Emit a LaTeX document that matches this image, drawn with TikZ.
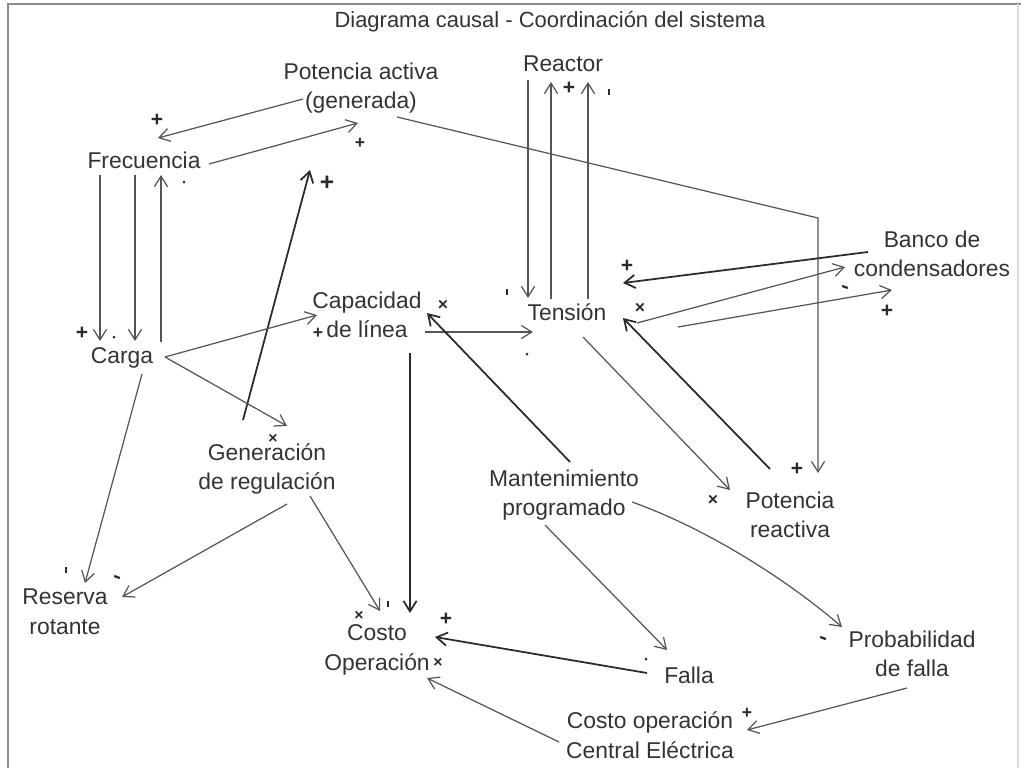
\documentclass[tikz,border=0pt]{standalone}
\usepackage{fontspec}
\setmainfont{Liberation Sans}
\usetikzlibrary{arrows.meta,calc}
\definecolor{ink}{HTML}{333333}
\definecolor{wire}{HTML}{555555}
\definecolor{heavy}{HTML}{2A2A2A}
\definecolor{framec}{HTML}{8C8C8C}

\begin{document}
\begin{tikzpicture}[x=0.02cm,y=-0.02cm,
  lbl/.style={text=ink,font=\fontsize{13}{16.8}\selectfont,align=center,inner sep=0pt},
  ttl/.style={text=ink,font=\fontsize{12.5}{15}\selectfont,inner sep=0pt},
  arr/.style={draw=wire,line width=0.7pt,-{Straight Barb[length=6pt,width=7.5pt]}},
  harr/.style={arr,draw=heavy,line width=1pt},
  plusm/.style={text=heavy,font=\bfseries\fontsize{12}{12}\selectfont,inner sep=0pt},
  exm/.style={text=heavy,font=\bfseries\fontsize{10}{10}\selectfont,inner sep=0pt},
  dotm/.style={fill=heavy,circle,inner sep=0pt,minimum size=0.06cm},
  tickm/.style={fill=heavy,rectangle,inner sep=0pt,minimum width=0.045cm,minimum height=0.12cm},
  dashm/.style={fill=heavy,rectangle,inner sep=0pt,minimum width=0.12cm,minimum height=0.045cm,rotate=-20},
]
\useasboundingbox (0,0) rectangle (1021,768);

% page frame
\draw[framec,line width=1.1pt] (8,768) -- (8,4) -- (1021,4);
\draw[black!15,line width=0.6pt] (1018,4) -- (1018,768);

% variables
\node[ttl] (title) at (550,22) {Diagrama causal - Coordinación del sistema};
\node[lbl] (pa) at (361,88) {Potencia activa\\(generada)};
\node[lbl] (re) at (563,64) {Reactor};
\node[lbl] (fr) at (144,160) {Frecuencia};
\node[lbl] (bc) at (932,254) {Banco de\\condensadores};
\node[lbl] (ca) at (367,315) {Capacidad\\de línea};
\node[lbl] (te) at (567,312) {Tensión};
\node[lbl] (cg) at (122,358) {Carga};
\node[lbl] (ge) at (267,469) {Generación\\de regulación};
\node[lbl] (ma) at (564,495) {Mantenimiento\\programado};
\node[lbl] (pr) at (790,515) {Potencia\\reactiva};
\node[lbl] (rr) at (65,612) {Reserva\\rotante};
\node[lbl] (co) at (377,650) {Costo\\Operación};
\node[lbl] (pf) at (912,654) {Probabilidad\\de falla};
\node[lbl] (fa) at (689,675) {Falla};
\node[lbl] (cc) at (650,735) {Costo operación\\Central Eléctrica};

% causal links
\draw[arr] ($(pa)+(-58,11)$) -- ($(fr)+(14,-22)$);
\draw[arr] ($(fr)+(65,4)$) -- ($(pa)+(-3,35)$);
\draw[arr] ($(pa)+(36,29)$) -- ($(pr)+(28,-297)$) -- ($(pr)+(28,-42)$);
\draw[arr] ($(fr)+(-44,15)$) -- ($(cg)+(-22,-17)$);
\draw[arr] ($(fr)+(-9,15)$) -- ($(cg)+(13,-17)$);
\draw[arr] ($(cg)+(39,-16)$) -- ($(fr)+(17,15)$);
\draw[harr] ($(ge)+(-24,-49)$) -- ($(pa)+(-51,82)$);
\draw[arr] ($(cg)+(43,-1)$) -- ($(ca)+(-50,0)$);
\draw[arr] ($(cg)+(43,-1)$) -- ($(ge)+(20,-43)$);
\draw[arr] ($(cg)+(20,16)$) -- ($(rr)+(20,-29)$);
\draw[arr] ($(ge)+(20,35)$) -- ($(rr)+(57,-15)$);
\draw[arr] ($(ge)+(43,27)$) -- ($(co)+(3,-39)$);
\draw[harr] ($(ca)+(43,38)$) -- ($(co)+(33,-37)$);
\draw[arr] ($(ca)+(58,17)$) -- ($(te)+(-34,20)$);
\draw[harr] ($(ma)+(6,-33)$) -- ($(ca)+(60,-2)$);
\draw[arr] ($(re)+(-35,16)$) -- ($(te)+(-39,-14)$);
\draw[arr] ($(te)+(-16,-13)$) -- ($(re)+(-12,18)$);
\draw[arr] ($(te)+(21,-13)$) -- ($(re)+(25,18)$);
\draw[harr] ($(bc)+(-64,-2)$) -- ($(te)+(56,-29)$);
\draw[arr] ($(te)+(70,11)$) -- ($(bc)+(-87,13)$);
\draw[arr] ($(te)+(111,15)$) -- ($(bc)+(-40,36)$);
\draw[harr] ($(pr)+(-20,-46)$) -- ($(te)+(56,6)$);
\draw[arr] ($(te)+(16,25)$) -- ($(pr)+(-60,-25)$);
\draw[arr] ($(ma)+(-19,30)$) -- ($(fa)+(-22,-25)$);
\draw[arr] ($(ma)+(68,7)$) .. controls ($(ma)+(141,33)$) and ($(ma)+(221,83)$) .. ($(pf)+(-70,-27)$);
\draw[harr] ($(fa)+(-42,-2)$) -- ($(co)+(58,-13)$);
\draw[arr] ($(cc)+(-91,7)$) -- ($(co)+(50,28)$);
\draw[arr] ($(pf)+(-5,34)$) -- ($(cc)+(97,-5)$);

% polarity marks
\node[plusm] (s1) at (157,120) {+};
\node[plusm,font=\bfseries\fontsize{10}{10}\selectfont] (s2) at (360,143) {+};
\node[dotm] (s3) at (184,182) {};
\node[plusm,font=\bfseries\fontsize{14}{14}\selectfont] (s4) at (327,183) {+};
\node[plusm] (s5) at (82,333) {+};
\node[dotm] (s6) at (114,337) {};
\node[plusm,font=\bfseries\fontsize{10}{10}\selectfont] (s7) at (318,333) {+};
\node[exm,font=\bfseries\fontsize{9}{9}\selectfont] (s8) at (273,439) {×};
\node[tickm] (s9) at (66,570) {};
\node[dashm] (s10) at (117,577) {};
\node[exm,font=\bfseries\fontsize{9}{9}\selectfont] (s11) at (359,616) {×};
\node[tickm] (s12) at (388,604) {};
\node[plusm] (s13) at (446,619) {+};
\node[exm,font=\bfseries\fontsize{9}{9}\selectfont] (s14) at (438,663) {×};
\node[exm] (s15) at (443,305) {×};
\node[dotm] (s16) at (527,354) {};
\node[tickm] (s17) at (507,292) {};
\node[plusm] (s18) at (569,88) {+};
\node[tickm] (s19) at (609,92) {};
\node[plusm] (s20) at (627,266) {+};
\node[exm] (s21) at (640,308) {×};
\node[dashm] (s22) at (845,287) {};
\node[plusm] (s23) at (887,311) {+};
\node[plusm] (s24) at (797,469) {+};
\node[exm] (s25) at (713,500) {×};
\node[dashm] (s26) at (823,638) {};
\node[dotm] (s27) at (646,659) {};
\node[plusm,font=\bfseries\fontsize{10}{10}\selectfont] (s28) at (747,713) {+};
\end{tikzpicture}
\end{document}
